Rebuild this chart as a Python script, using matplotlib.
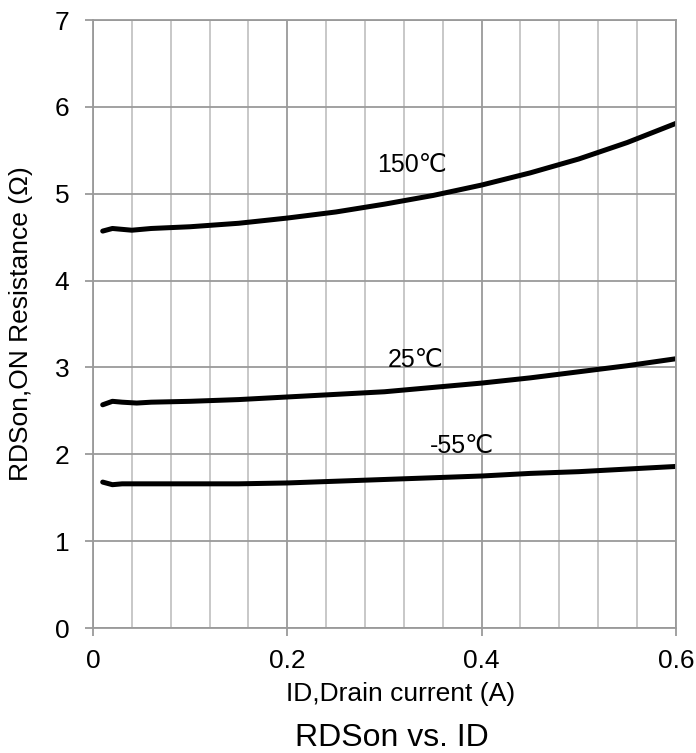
import matplotlib
matplotlib.use('Agg')
import matplotlib.pyplot as plt
from matplotlib.ticker import MultipleLocator

plt.rcParams['font.family'] = ['Liberation Sans', 'DejaVu Sans']

# RDSon vs ID curves
x_150 = [0.01, 0.02, 0.03, 0.04, 0.06, 0.08, 0.10, 0.15, 0.20, 0.25, 0.30, 0.35, 0.40, 0.45, 0.50, 0.55, 0.60]
r_150 = [4.57, 4.60, 4.59, 4.58, 4.60, 4.61, 4.62, 4.66, 4.72, 4.79, 4.88, 4.98, 5.10, 5.24, 5.40, 5.59, 5.81]

x_25 = [0.01, 0.02, 0.03, 0.045, 0.06, 0.10, 0.15, 0.20, 0.25, 0.30, 0.35, 0.40, 0.45, 0.50, 0.55, 0.60]
r_25 = [2.57, 2.61, 2.60, 2.59, 2.60, 2.61, 2.63, 2.66, 2.69, 2.72, 2.77, 2.82, 2.88, 2.95, 3.02, 3.10]

x_m55 = [0.01, 0.02, 0.03, 0.05, 0.10, 0.15, 0.20, 0.25, 0.30, 0.35, 0.40, 0.45, 0.50, 0.55, 0.60]
r_m55 = [1.68, 1.65, 1.66, 1.66, 1.66, 1.66, 1.67, 1.69, 1.71, 1.73, 1.75, 1.78, 1.80, 1.83, 1.86]

fig = plt.figure(figsize=(6.96, 7.53), dpi=100)
ax = fig.add_axes([0.1336, 0.166, 0.8375, 0.8074])

# grid: light minor verticals every 0.04, darker majors
ax.set_xlim(0, 0.6)
ax.set_ylim(0, 7)
ax.xaxis.set_major_locator(MultipleLocator(0.2))
ax.xaxis.set_minor_locator(MultipleLocator(0.04))
ax.yaxis.set_major_locator(MultipleLocator(1))
ax.grid(which='minor', axis='x', color='#c4c4c4', linewidth=1.3)
ax.grid(which='major', axis='both', color='#9a9a9a', linewidth=1.3)
ax.set_axisbelow(True)

for s in ax.spines.values():
    s.set_color('#9a9a9a')
    s.set_linewidth(1.3)

ax.set_xticks([0, 0.2, 0.4, 0.6])
ax.set_xticklabels(['0', '0.2', '0.4', '0.6'])
ax.tick_params(which='major', direction='out', length=6, width=1.3, color='#9a9a9a',
               labelsize=19, labelcolor='black')
ax.tick_params(axis='y', pad=11)
ax.tick_params(axis='x', pad=9)
ax.tick_params(which='minor', length=0)

for xs, ys in [(x_150, r_150), (x_25, r_25), (x_m55, r_m55)]:
    ax.plot(xs, ys, color='black', linewidth=3.6, solid_capstyle='round', solid_joinstyle='round')

ax.text(0.292, 5.25, '150\u2103', fontsize=18, ha='left', va='baseline')
ax.text(0.303, 3.00, '25\u2103', fontsize=18, ha='left', va='baseline')
ax.text(0.347, 2.01, '-55\u2103', fontsize=18, ha='left', va='baseline')

ax.set_xlabel('ID,Drain current (A)', fontsize=19, va='top')
ax.xaxis.set_label_coords(0.527, -0.089)
ax.set_ylabel('RDSon,ON Resistance (\u03a9)', fontsize=19, va='center')
ax.yaxis.set_label_coords(-0.123, 0.5)

fig.text(0.563, 0.009, 'RDSon vs. ID', fontsize=23, ha='center', va='baseline')

fig.savefig('out.png', dpi=100)
